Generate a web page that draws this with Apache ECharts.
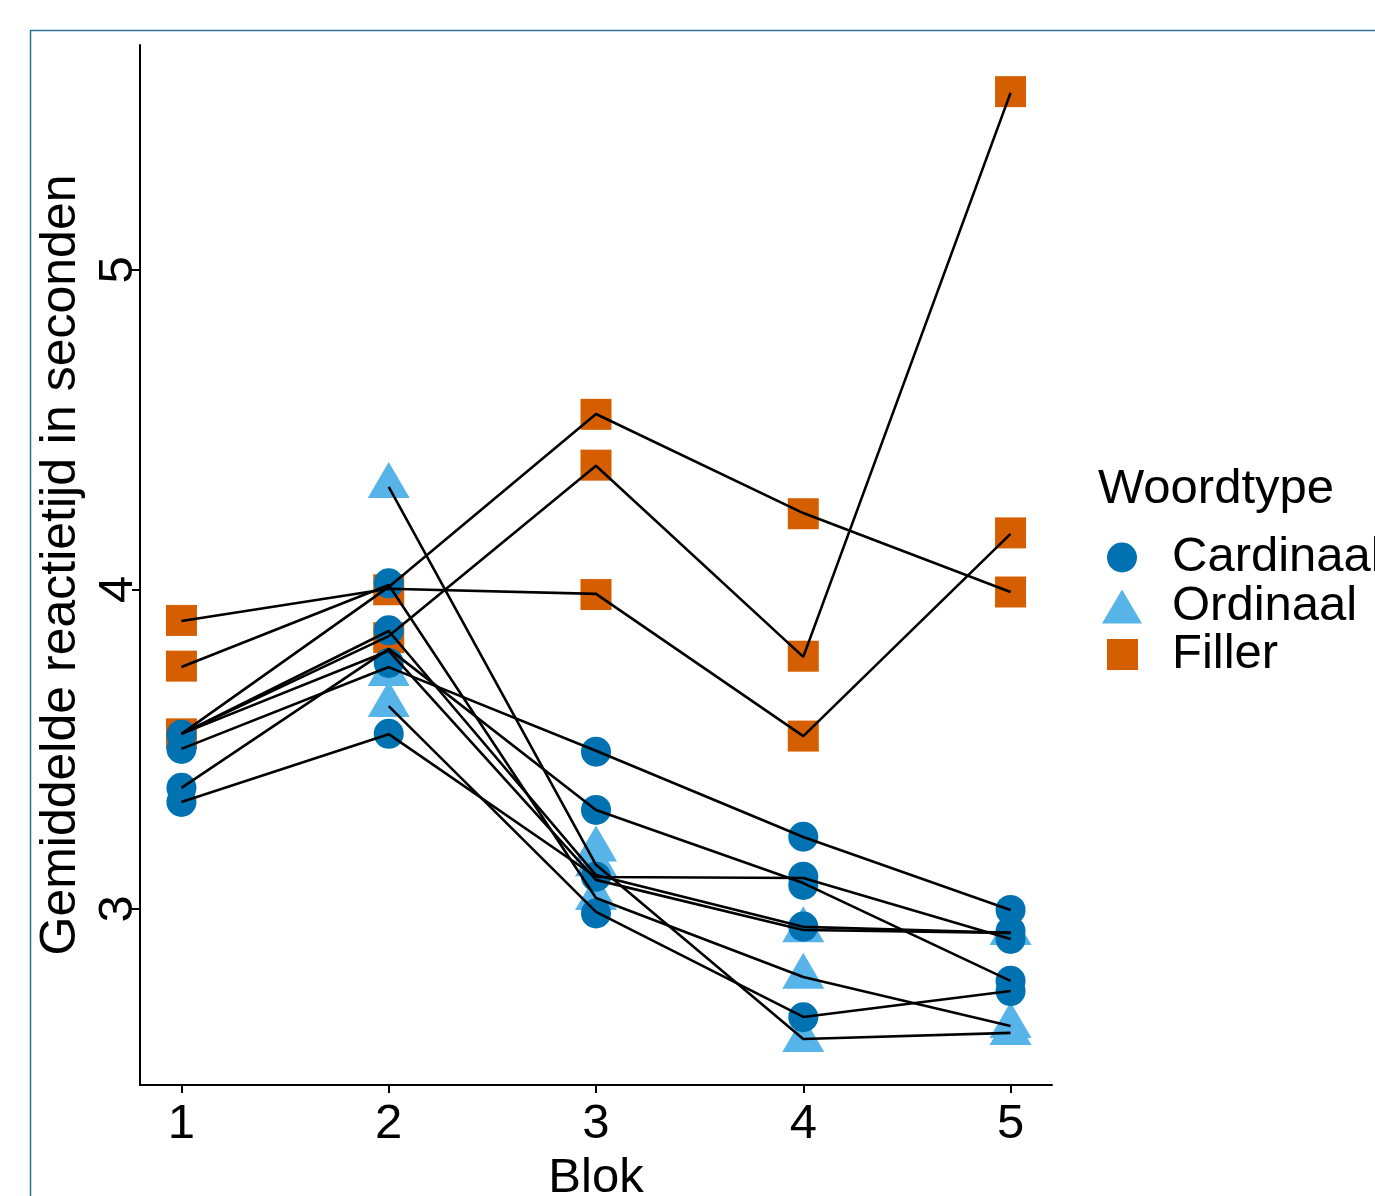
<!DOCTYPE html>
<html><head><meta charset="utf-8">
<script src="https://cdn.jsdelivr.net/npm/echarts@6/dist/echarts.min.js"></script>
<style>html,body{margin:0;padding:0;background:#fff}#c{width:1375px;height:1196px}</style>
</head><body><div id="c"></div>
<script>
// ---- data ----
const blockTicks = [1, 2, 3, 4, 5];
const rtTicks = [3, 4, 5];
const seriesNames = ['Cardinaal', 'Ordinaal', 'Filler'];
const cardinaalPoints = [
  [1,3.545],[1,3.501],[1,3.379],[1,3.335],
  [2,4.019],[2,3.872],[2,3.77],[2,3.548],
  [3,3.492],[3,3.310],[3,3.101],[3,2.986],
  [4,3.226],[4,3.101],[4,3.075],[4,2.945],[4,2.661],
  [5,2.997],[5,2.931],[5,2.906],[5,2.775],[5,2.743]
];
const ordinaalPoints = [
  [2,4.324],[2,3.735],[2,3.638],
  [3,3.186],[3,3.14],[3,3.034],
  [4,2.933],[4,2.788],[4,2.590],
  [5,2.925],[5,2.634],[5,2.612]
];
const fillerPoints = [
  [1,3.903],[1,3.760],[1,3.548],
  [2,3.999],[2,3.849],
  [3,4.548],[3,4.389],[3,3.984],
  [4,4.237],[4,3.791],[4,3.541],
  [5,5.558],[5,4.177],[5,3.992]
];
// one row per line, values for blok 1..5 (null = no value)
const lineValues = [
  [3.548, 4.008, 4.549, 4.239, 3.992],
  [3.548, 3.854, 4.387, 3.789, 5.554],
  [3.901, 4.002, 3.986, 3.541, 4.174],
  [3.501, 3.757, 3.495, 3.225, 2.997],
  [3.379, 3.814, 3.310, 3.081, 2.775],
  [3.335, 3.547, 3.100, 3.097, 2.906],
  [null,  4.321, 3.138, 2.593, 2.612],
  [3.757, 4.014, 3.034, 2.787, 2.634],
  [3.548, 3.870, 3.106, 2.944, 2.925],
  [3.548, 3.808, 3.091, 2.934, 2.925],
  [null,  3.635, 2.991, 2.662, 2.743]
];

// ---- chart ----
const FONT = 'Liberation Sans, Arial, sans-serif';
const FS = 49;
const colors = {Cardinaal:'#0072B2', Ordinaal:'#56B4E9', Filler:'#D55E00'};
const chart = echarts.init(document.getElementById('c'), null, {renderer:'canvas'});

const lineSeries = lineValues.map((vals, k) => ({
  type: 'line', name: 'lijn' + (k + 1), silent: true,
  symbol: 'none', z: 5,
  lineStyle: {color: '#000', width: 2.6},
  data: blockTicks.map((b, i) => [b, vals[i]]).filter(d => d[1] !== null)
}));

const legendBase = {
  orient: 'vertical', padding: 0, itemGap: 0,
  textStyle: {fontSize: FS, color: '#000', fontFamily: FONT}
};

chart.setOption({
  animation: false,
  backgroundColor: '#fff',
  grid: {left: 140, top: 45, width: 912, height: 1040, containLabel: false, outerBoundsMode: 'none'},
  title: {text: 'Woordtype', left: 1098, top: 465, padding: 0,
    textStyle: {fontSize: FS, fontWeight: 'normal', color: '#000', fontFamily: FONT}},
  legend: [
    Object.assign({}, legendBase, {data: [{name: 'Cardinaal', icon: 'circle'}], left: 1107, top: 533,
      itemWidth: 30, itemHeight: 30, textStyle: Object.assign({}, legendBase.textStyle, {padding: [0,0,0,30]})}),
    Object.assign({}, legendBase, {data: [{name: 'Ordinaal', icon: 'triangle'}], left: 1102, top: 582,
      itemWidth: 40, itemHeight: 34, textStyle: Object.assign({}, legendBase.textStyle, {padding: [0,0,0,25]})}),
    Object.assign({}, legendBase, {data: [{name: 'Filler', icon: 'rect'}], left: 1107, top: 630,
      itemWidth: 31, itemHeight: 31, textStyle: Object.assign({}, legendBase.textStyle, {padding: [0,0,0,29]})})
  ],
  xAxis: {
    type: 'value', min: 0.8, max: 5.2,
    name: 'Blok', nameLocation: 'middle', nameGap: 63,
    nameTextStyle: {fontSize: FS, color: '#000', fontFamily: FONT},
    axisLine: {show: true, lineStyle: {color: '#000', width: 2}},
    axisTick: {show: true, length: 8, lineStyle: {color: '#000', width: 2}, customValues: blockTicks},
    axisLabel: {fontSize: FS, color: '#000', fontFamily: FONT, margin: 15, customValues: blockTicks},
    splitLine: {show: false}
  },
  yAxis: {
    type: 'value', min: 2.449, max: 5.704,
    name: 'Gemiddelde reactietijd in seconden', nameLocation: 'middle', nameGap: 37,
    nameTextStyle: {fontSize: 50, color: '#000', fontFamily: FONT},
    axisLine: {show: true, lineStyle: {color: '#000', width: 2}},
    axisTick: {show: true, length: 8, lineStyle: {color: '#000', width: 2}, customValues: rtTicks},
    axisLabel: {fontSize: FS, color: '#000', fontFamily: FONT, rotate: 90, margin: -3, customValues: rtTicks},
    splitLine: {show: false}
  },
  graphic: [{
    type: 'rect', shape: {x: 30.5, y: 30.5, width: 1400, height: 1220},
    style: {fill: 'none', stroke: '#2F7096', lineWidth: 1.5}, silent: true, z: 100
  }],
  series: [
    {type: 'scatter', name: 'Filler', data: fillerPoints, symbol: 'rect', symbolSize: 31,
      itemStyle: {color: colors.Filler, opacity: 1}, z: 2},
    {type: 'scatter', name: 'Ordinaal', data: ordinaalPoints, symbol: 'triangle', symbolSize: [42, 36],
      symbolOffset: [0, -6], itemStyle: {color: colors.Ordinaal, opacity: 1}, z: 3},
    {type: 'scatter', name: 'Cardinaal', data: cardinaalPoints, symbol: 'circle', symbolSize: 30,
      itemStyle: {color: colors.Cardinaal, opacity: 1}, z: 4}
  ].concat(lineSeries)
});
</script>
</body></html>
